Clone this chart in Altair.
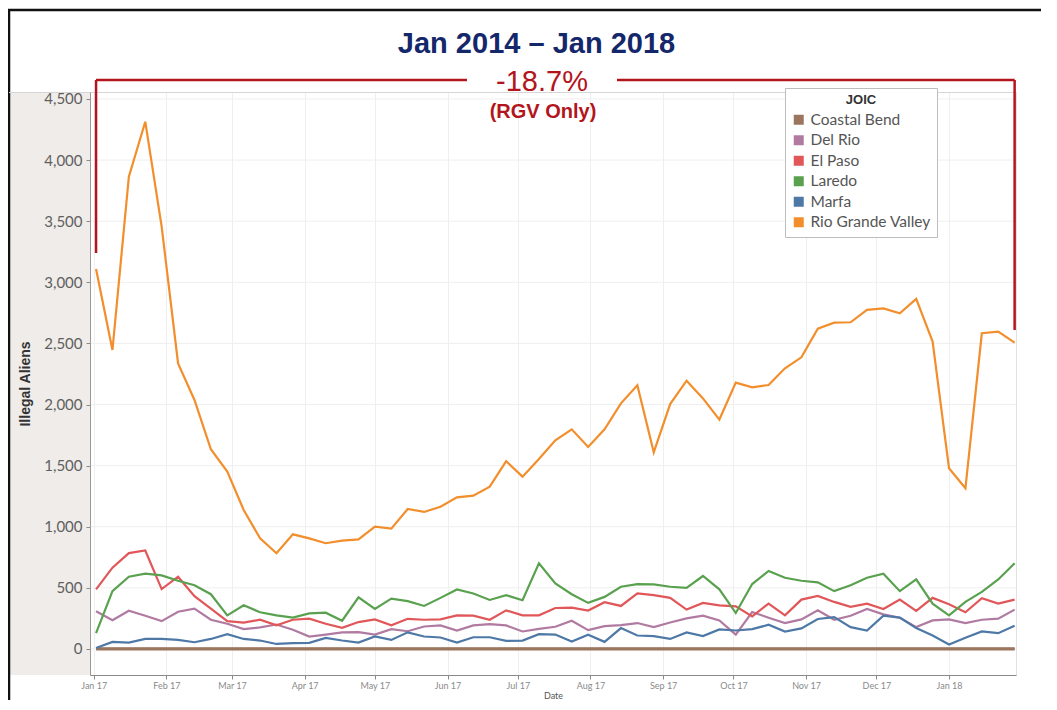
import altair as alt
import pandas as pd

# ---------------- data ----------------
dates = pd.date_range("2017-01-02", periods=57, freq="7D").strftime("%Y-%m-%d").tolist()

names = ["Coastal Bend", "Del Rio", "El Paso", "Laredo", "Marfa", "Rio Grande Valley"]
colors = ["#9c755f", "#b07aa1", "#e15759", "#59a14f", "#4e79a7", "#f28e2b"]

coastal_bend = [0] * 57

del_rio = [308, 236, 313, 272, 228, 305, 330, 239, 206, 162, 176, 200, 157, 102, 118, 135,
           137, 118, 162, 145, 184, 193, 151, 193, 204, 193, 143, 165, 182, 231, 154, 187,
           195, 212, 179, 217, 250, 272, 234, 118, 302, 256, 212, 242, 316, 239, 272, 327,
           283, 256, 179, 234, 242, 212, 239, 248, 322]

el_paso = [487, 665, 784, 806, 490, 591, 432, 330, 228, 215, 239, 193, 239, 248, 206, 173,
           220, 242, 193, 247, 239, 242, 275, 272, 239, 316, 275, 275, 335, 338, 314, 382,
           352, 454, 440, 418, 322, 377, 356, 349, 267, 371, 275, 404, 434, 385, 344, 371,
           327, 404, 311, 418, 366, 300, 415, 371, 404]

laredo = [129, 473, 591, 616, 602, 558, 522, 448, 275, 357, 300, 275, 256, 291, 297, 231,
          423, 327, 412, 391, 352, 418, 487, 454, 401, 440, 399, 701, 536, 448, 377, 426,
          509, 531, 528, 509, 500, 597, 488, 294, 531, 638, 583, 558, 545, 473, 522, 583,
          616, 473, 569, 371, 275, 385, 467, 569, 701]

marfa = [8, 58, 52, 82, 82, 74, 55, 82, 121, 82, 69, 41, 47, 50, 91, 69,
         52, 102, 74, 136, 102, 94, 52, 96, 96, 66, 69, 121, 118, 61, 116, 58,
         171, 110, 105, 82, 135, 105, 160, 151, 162, 198, 143, 168, 245, 261, 179, 151,
         272, 256, 171, 110, 36, 91, 143, 129, 190]

rio_grande_valley = [3109, 2446, 3864, 4314, 3455, 2337, 2037, 1634, 1451, 1137, 905, 783,
                     938, 905, 865, 886, 897, 1001, 984, 1145, 1121, 1164, 1241, 1254, 1328,
                     1536, 1410, 1555, 1707, 1797, 1653, 1797, 2010, 2157, 1609, 2004, 2195,
                     2050, 1877, 2179, 2141, 2160, 2296, 2386, 2621, 2670, 2673, 2774, 2787,
                     2746, 2864, 2515, 1478, 1315, 2583, 2596, 2506]

y_ticks = [0, 500, 1000, 1500, 2000, 2500, 3000, 3500, 4000, 4500]

title_text = "Jan 2014 \u2013 Jan 2018"
change_text = "-18.7%"
sub_text = "(RGV Only)"

# ---------------- table ----------------
series = [coastal_bend, del_rio, el_paso, laredo, marfa, rio_grande_valley]
rows = []
for n, vals in zip(names, series):
    for d, v in zip(dates, vals):
        rows.append({"date": d, "joic": n, "value": v})
df = pd.DataFrame(rows)

W, H = 926, 583


def ms(s):
    return int(pd.Timestamp(s, tz="UTC").value // 10**6)


x_scale = alt.Scale(type="utc", domain=[ms("2016-12-30 10:00"), ms("2018-01-29 14:00")])
month_ticks = [ms(str(d.date())) for d in pd.date_range("2017-01-01", "2018-01-01", freq="MS")]
y_scale = alt.Scale(domain=[-213, 4557], nice=False, zero=False)
color_scale = alt.Scale(domain=names, range=colors)

AX_FONT = "Lato"
TXT_FONT = "Liberation Sans"
RED = "#b3151c"

x_enc = alt.X("date:T", scale=x_scale,
              axis=alt.Axis(values=month_ticks, format="%b %y", labelFontSize=9,
                            labelColor="#8a8a8a", labelFont=AX_FONT, labelPadding=2,
                            tickSize=4, tickColor="#8a8a8a", domainColor="#8a8a8a",
                            gridColor="#efefef", grid=True, title="Date", titleFont=AX_FONT,
                            titleFontSize=9, titleFontWeight="normal", titleColor="#555555",
                            titlePadding=1, labelFlush=False))

y_enc = alt.Y("value:Q", scale=y_scale,
              axis=alt.Axis(values=y_ticks, format=",.0f", labelFontSize=15,
                            labelColor="#5f5f5f",
                            labelFont=AX_FONT, tickSize=4, tickColor="#8a8a8a",
                            domainColor="#9a9a9a", grid=False, title="Illegal Aliens",
                            titleFont=TXT_FONT, titleFontSize=14, titleColor="#333333",
                            titleFontWeight="bold", titleX=-65, titleY=H / 2, titleAngle=270,
                            titleAlign="center", titleBaseline="middle", labelPadding=4,
                            zindex=1))

one = pd.DataFrame({"a": [0]})

band = alt.Chart(one).mark_rect(color="#efece9").encode(
    x=alt.value(-81), x2=alt.value(0), y=alt.value(1), y2=alt.value(H))

frame_left = alt.Chart(one).mark_rule(color="#111111", strokeWidth=2.5).encode(
    x=alt.value(-81), y=alt.value(-83), y2=alt.value(H + 40))
frame_top = alt.Chart(one).mark_rule(color="#111111", strokeWidth=2.5).encode(
    x=alt.value(-82), x2=alt.value(W + 40), y=alt.value(-82))
top_border = alt.Chart(one).mark_rule(color="#d6d6d6", strokeWidth=1).encode(
    x=alt.value(-81), x2=alt.value(W), y=alt.value(0.5))

grid = alt.Chart(pd.DataFrame({"value": y_ticks})).mark_rule(
    color="#efefef", strokeWidth=1).encode(y=alt.Y("value:Q", scale=y_scale),
                                           x=alt.value(0), x2=alt.value(W))

# thicker zero-level Coastal Bend line underneath
coastal_df = df[df["joic"] == "Coastal Bend"]
coastal_line = alt.Chart(coastal_df).mark_line(color=colors[0], strokeWidth=3.2).encode(
    x=alt.X("date:T", scale=x_scale), y=alt.Y("value:Q", scale=y_scale))

lines = alt.Chart(df).mark_line(interpolate="linear", strokeWidth=2.2).encode(
    x=x_enc, y=y_enc,
    color=alt.Color("joic:N", scale=color_scale, legend=None),
    order=alt.Order("date:T"),
)

# zero-size filled squares: carry the legend with filled swatches
legend_layer = alt.Chart(df).mark_square(size=0, filled=True).encode(
    x=alt.X("date:T", scale=x_scale), y=alt.Y("value:Q", scale=y_scale),
    color=alt.Color("joic:N", scale=color_scale,
                    legend=alt.Legend(title="JOIC", orient="none", legendX=695, legendY=-4,
                                      fillColor="white", strokeColor="#bdbdbd", padding=6,
                                      symbolType="square", symbolSize=100,
                                      symbolStrokeWidth=0, labelFontSize=15.5,
                                      labelFont=AX_FONT, labelColor="#555555",
                                      titleFont=TXT_FONT, titleFontSize=13,
                                      titleFontWeight="bold", titleColor="#333333",
                                      titleAnchor="middle", rowPadding=3.5, titlePadding=5,
                                      labelOffset=4, symbolOpacity=1)),
)

first = pd.DataFrame({"date": [dates[0]]})
last = pd.DataFrame({"date": [dates[-1]]})

br_left_v = alt.Chart(first).mark_rule(color=RED, strokeWidth=2.5).encode(
    x=alt.X("date:T", scale=x_scale), y=alt.value(-12), y2=alt.value(161))
br_left_h = alt.Chart(first).mark_rule(color=RED, strokeWidth=2.5).encode(
    x=alt.X("date:T", scale=x_scale), x2=alt.value(377), y=alt.value(-12))
br_right_v = alt.Chart(last).mark_rule(color=RED, strokeWidth=2.5).encode(
    x=alt.X("date:T", scale=x_scale), y=alt.value(-12), y2=alt.value(238))
br_right_h = alt.Chart(last).mark_rule(color=RED, strokeWidth=2.5).encode(
    x=alt.X("date:T", scale=x_scale), x2=alt.value(527), y=alt.value(-12))

title = alt.Chart(pd.DataFrame({"t": [title_text]})).mark_text(
    font=TXT_FONT, fontSize=29, fontWeight="bold", color="#15276b", align="center",
    baseline="alphabetic").encode(text="t:N", x=alt.value(446.5), y=alt.value(-39))
change = alt.Chart(pd.DataFrame({"t": [change_text]})).mark_text(
    font=TXT_FONT, fontSize=29, color=RED, align="center",
    baseline="alphabetic").encode(text="t:N", x=alt.value(452), y=alt.value(-1))
sub = alt.Chart(pd.DataFrame({"t": [sub_text]})).mark_text(
    font=TXT_FONT, fontSize=20, fontWeight="bold", color=RED, align="center",
    baseline="alphabetic").encode(text="t:N", x=alt.value(453), y=alt.value(26))

chart = alt.layer(
    band, frame_left, frame_top, top_border, grid, coastal_line, lines, legend_layer,
    br_left_v, br_left_h, br_right_v, br_right_h, title, change, sub
).resolve_scale(color="shared").resolve_legend(color="independent").properties(
    width=W, height=H,
    autosize=alt.AutoSizeParams(type="none"),
    padding={"left": 82, "top": 84, "right": 25, "bottom": 25},
    background="white",
).configure_view(stroke="#e2e2e2", strokeWidth=1)

chart.save("out.html", embed_options={"renderer": "svg", "actions": False})
